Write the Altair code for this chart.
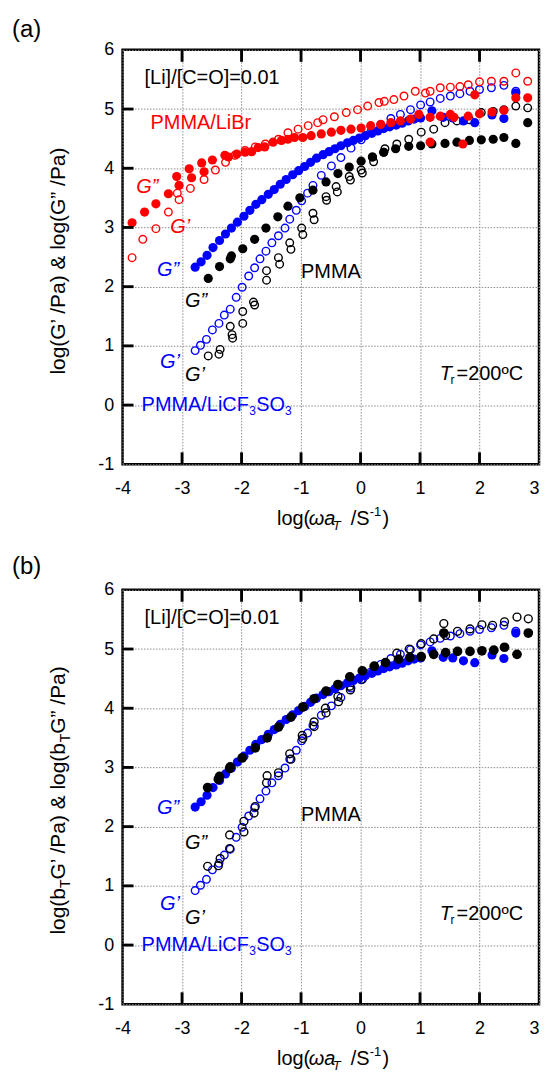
import altair as alt
import pandas as pd

# ---------------- data ----------------
# Panel (a): PMMA/LiBr
red_gpp = [(-3.84,3.08),(-3.63,3.26),(-3.44,3.40),(-3.23,3.57),(-3.09,3.86),(-3.05,3.71),(-2.88,3.99),(-2.84,3.84),
           (-2.67,4.09),(-2.63,3.94),(-2.49,4.14),(-2.28,4.22),(-2.22,4.19),(-2.08,4.24),(-1.94,4.27),(-1.83,4.28),
           (-1.72,4.35),(-1.61,4.36),(-1.47,4.44),(-1.33,4.47),(-1.22,4.49),(-1.11,4.52),(-0.97,4.52),(-0.83,4.55),
           (-0.66,4.58),(-0.49,4.61),(-0.33,4.64),(-0.16,4.66),(0.01,4.68),(0.17,4.72),(0.34,4.74),(0.51,4.77),
           (0.67,4.80),(0.84,4.83),(0.98,4.91),(1.17,4.86),(1.17,4.44),(1.34,4.88),(1.51,4.91),(1.57,4.86),
           (1.72,4.41),(1.81,4.88),(1.92,5.24),(2.00,4.92),(2.21,4.95),(2.41,4.98),(2.61,5.19),(2.81,5.19)]
red_gp = [(-3.84,2.49),(-3.66,2.80),(-3.44,2.98),(-3.23,3.26),(-3.08,3.58),(-3.05,3.47),(-2.86,3.66),(-2.63,3.81),
          (-2.44,3.97),(-2.27,4.10),(-2.11,4.22),(-1.94,4.30),(-1.77,4.36),(-1.60,4.41),(-1.38,4.49),(-1.22,4.60),
          (-1.05,4.66),(-0.88,4.72),(-0.72,4.77),(-0.63,4.82),(-0.44,4.87),(-0.24,4.94),(-0.05,4.99),(0.12,5.05),
          (0.31,5.11),(0.40,5.13),(0.56,5.16),(0.73,5.22),(0.92,5.30),(1.09,5.27),(1.17,5.30),(1.34,5.36),
          (1.51,5.37),(1.67,5.38),(1.81,5.41),(2.00,5.46),(2.20,5.47),(2.41,5.47),(2.61,5.61),(2.81,5.47)]

# PMMA/LiCF3SO3 (same in both panels)
blue_gpp = [(-2.78,2.33),(-2.68,2.42),(-2.58,2.53),(-2.48,2.66),(-2.37,2.78),(-2.27,2.89),(-2.17,2.99),(-2.07,3.09),
            (-1.96,3.19),(-1.86,3.29),(-1.76,3.39),(-1.66,3.47),(-1.55,3.56),(-1.45,3.64),(-1.35,3.73),(-1.25,3.81),
            (-1.14,3.89),(-1.04,3.96),(-0.94,4.03),(-0.84,4.10),(-0.74,4.17),(-0.63,4.23),(-0.53,4.28),(-0.43,4.33),
            (-0.33,4.38),(-0.22,4.43),(-0.12,4.47),(-0.02,4.51),(0.08,4.55),(0.19,4.59),(0.29,4.63),(0.39,4.67),
            (0.49,4.70),(0.60,4.73),(0.70,4.76),(0.80,4.80),(0.90,4.83),(1.01,4.85),(1.20,4.97),(1.39,4.86),
            (1.55,4.85),(1.73,4.80),(1.92,4.77),(2.21,4.90),(2.41,4.84),(2.61,5.27)]
blue_gp = [(-2.78,0.92),(-2.69,1.01),(-2.59,1.11),(-2.49,1.27),(-2.38,1.38),(-2.29,1.52),(-2.19,1.62),(-2.09,1.82),
           (-1.99,1.99),(-1.88,2.18),(-1.78,2.32),(-1.69,2.47),(-1.59,2.60),(-1.49,2.74),(-1.38,2.86),(-1.27,2.99),
           (-1.19,3.14),(-1.08,3.29),(-0.99,3.45),(-0.89,3.58),(-0.80,3.71),(-0.66,3.88),(-0.49,4.04),(-0.33,4.18),
           (-0.16,4.34),(0.01,4.48),(0.17,4.61),(0.34,4.74),(0.51,4.84),(0.67,4.91),(0.84,4.99),(1.01,5.07),
           (1.17,5.12),(1.34,5.18),(1.51,5.22),(1.67,5.26),(1.84,5.30),(2.00,5.33),(2.20,5.36),(2.41,5.40),(2.61,5.30)]

# PMMA, panel (a)
blk_gpp_a = [(-2.56,2.14),(-2.37,2.34),(-2.19,2.47),(-2.17,2.52),(-1.98,2.64),(-1.78,2.80),(-1.59,2.99),(-1.39,3.18),
             (-1.22,3.36),(-1.02,3.50),(-0.80,3.63),(-0.58,3.77),(-0.38,3.91),(-0.19,4.02),(0.01,4.12),(0.20,4.19),
             (0.39,4.27),(0.59,4.33),(0.81,4.37),(1.01,4.38),(1.20,4.41),(1.42,4.42),(1.62,4.44),(1.83,4.47),
             (2.03,4.48),(2.23,4.49),(2.41,4.52),(2.61,4.42),(2.81,4.77)]
blk_gp_a = [(-2.56,0.83),(-2.38,0.86),(-2.36,0.94),(-2.19,1.33),(-2.16,1.19),(-2.15,1.13),(-1.98,1.58),(-1.98,1.38),
            (-1.80,1.74),(-1.78,1.69),(-1.58,2.27),(-1.58,2.11),(-1.38,2.49),(-1.36,2.38),(-1.19,2.74),(-1.17,2.63),
            (-0.99,2.99),(-0.97,2.88),(-0.80,3.24),(-0.78,3.13),(-0.58,3.52),(-0.57,3.46),(-0.41,3.69),(-0.39,3.60),
            (-0.19,3.86),(-0.17,3.80),(0.01,3.97),(0.03,3.92),(0.20,4.19),(0.22,4.11),(0.39,4.27),(0.41,4.33),
            (0.61,4.41),(0.81,4.49),(1.02,4.61),(1.23,4.66),(1.42,4.77),(1.62,4.80),(1.83,4.82),(2.03,4.94),
            (2.23,4.96),(2.41,4.99),(2.61,5.05),(2.81,5.02)]

# PMMA, panel (b) (b_T-shifted)
blk_gpp_b = [(-2.57,2.66),(-2.39,2.80),(-2.37,2.85),(-2.20,2.98),(-2.19,3.01),(-1.99,3.16),(-1.77,3.33),(-1.57,3.50),
             (-1.38,3.68),(-1.17,3.85),(-0.97,4.02),(-0.78,4.16),(-0.58,4.29),(-0.38,4.40),(-0.18,4.53),(0.03,4.63),
             (0.23,4.71),(0.42,4.77),(0.64,4.83),(0.83,4.86),(1.02,4.87),(1.23,4.91),(1.40,5.27),(1.43,4.94),
             (1.63,4.96),(1.84,4.96),(2.04,4.97),(2.24,4.98),(2.42,5.03),(2.63,4.91),(2.82,5.27)]
blk_gp_b = [(-2.57,1.33),(-2.39,1.34),(-2.36,1.46),(-2.20,1.63),(-2.20,1.86),(-1.96,1.91),(-1.96,2.09),(-1.79,2.23),
            (-1.77,2.34),(-1.58,2.74),(-1.57,2.86),(-1.38,2.91),(-1.19,3.23),(-1.17,3.14),(-0.98,3.54),(-0.97,3.49),
            (-0.78,3.69),(-0.78,3.77),(-0.59,4.00),(-0.58,3.92),(-0.38,4.20),(-0.37,4.11),(-0.18,4.37),(-0.17,4.31),
            (0.03,4.49),(0.23,4.63),(0.42,4.77),(0.61,4.93),(0.82,5.00),(1.02,5.09),(1.23,5.17),(1.40,5.43),
            (1.43,5.23),(1.63,5.30),(1.84,5.34),(2.04,5.41),(2.22,5.40),(2.42,5.46),(2.63,5.54),(2.82,5.51)]

x_ticks = [-4, -3, -2, -1, 0, 1, 2, 3]
y_ticks = [-1, 0, 1, 2, 3, 4, 5, 6]
inner_x_ticks = [-3, -2, -1, 0, 1, 2]
inner_y_ticks = [0, 1, 2, 3, 4, 5]

RED, BLUE, BLACK = "#ff0000", "#0000ff", "#000000"
FONT = "Liberation Sans"
W, H = 418, 416
FS = 20

def X(field):
    return alt.X(field, type="quantitative", title=None,
                 scale=alt.Scale(domain=[-4, 3], nice=False, zero=False),
                 axis=alt.Axis(values=x_ticks, labelExpr="'' + datum.value", grid=True, ticks=False,
                               domain=False, labelFontSize=18, labelPadding=15, labelColor="black",
                               labelFont=FONT, labelFlush=False, gridColor="#8c8c8c",
                               labelAlign=alt.condition("datum.value == 3", alt.value("right"), alt.value("center")),
                               gridDash=[1.5, 1.5], gridWidth=1))

def Y(field):
    return alt.Y(field, type="quantitative", title=None,
                 scale=alt.Scale(domain=[-1, 6], nice=False, zero=False),
                 axis=alt.Axis(values=y_ticks, labelExpr="'' + datum.value", grid=True, ticks=False,
                               domain=False, labelFontSize=18, labelPadding=9, labelColor="black",
                               labelFont=FONT, labelFlush=False, gridColor="#8c8c8c",
                               gridDash=[1.5, 1.5], gridWidth=1))

def pts(pairs, color, filled, size):
    df = pd.DataFrame({"x": [p[0] for p in pairs], "y": [p[1] for p in pairs], "c": color})
    if filled:
        m = alt.Chart(df).mark_point(shape="circle", filled=True, size=size, opacity=1)
    else:
        m = alt.Chart(df).mark_point(shape="circle", filled=False, size=size, strokeWidth=1.4, opacity=1)
    return m.encode(x=X("x"), y=Y("y"), color=alt.Color("c:N", scale=None))

def txt(x, y, s, color=BLACK, size=FS, italic=False, dx=0, dy=0):
    df = pd.DataFrame({"x": [x], "y": [y], "t": [s]})
    return alt.Chart(df).mark_text(align="left", baseline="middle", dx=dx, dy=dy, fontSize=size,
                                   font=FONT, fontStyle="italic" if italic else "normal",
                                   color=color).encode(x=X("x"), y=Y("y"), text="t:N")

def ptxt(px, py, s, size=FS, angle=0, dx=0, dy=0, italic=False, baseline="alphabetic", align="left"):
    df = pd.DataFrame({"t": [s]})
    return alt.Chart(df).mark_text(align=align, baseline=baseline, dx=dx, dy=dy, fontSize=size,
                                   angle=angle, font=FONT, color=BLACK,
                                   fontStyle="italic" if italic else "normal").encode(
        x=alt.value(px), y=alt.value(py), text="t:N")

# inward tick marks: symbol glyphs placed on the frame through the scales
UP_TICK = "M-0.12,-1L0.12,-1L0.12,0L-0.12,0Z"
DOWN_TICK = "M-0.12,0L0.12,0L0.12,1L-0.12,1Z"
RIGHT_TICK = "M0,-0.13L1,-0.13L1,0.13L0,0.13Z"

def frame_ticks():
    n = len(inner_x_ticks)
    bot = pd.DataFrame({"x": inner_x_ticks, "y": [-1] * n, "c": [BLACK] * n})
    top = pd.DataFrame({"x": inner_x_ticks, "y": [6] * n, "c": [BLACK] * n})
    lef = pd.DataFrame({"x": [-4] * len(inner_y_ticks), "y": inner_y_ticks, "c": [BLACK] * len(inner_y_ticks)})
    out = []
    for df, shp, sz in ((bot, UP_TICK, 576), (top, DOWN_TICK, 576), (lef, RIGHT_TICK, 484)):
        out.append(alt.Chart(df).mark_point(shape=shp, filled=True, size=sz, opacity=1).encode(
            x=X("x"), y=Y("y"), color=alt.Color("c:N", scale=None)))
    return out

def xtitle():
    yb = H + 61
    x0 = 155
    return [ptxt(x0, yb, "log("),
            ptxt(x0, yb, "ωa", italic=True, dx=32),
            ptxt(x0, yb, "T", size=13, italic=True, dx=56, dy=5),
            ptxt(x0, yb, "/S", dx=74),
            ptxt(x0, yb, "-1", size=13, dx=93, dy=-9),
            ptxt(x0, yb, ")", dx=106)]

def licf(xd, yd):
    return [txt(xd, yd, "PMMA/LiCF", BLUE),
            txt(xd, yd, "3", BLUE, size=12, dx=108, dy=6),
            txt(xd, yd, "SO", BLUE, dx=115),
            txt(xd, yd, "3", BLUE, size=12, dx=144, dy=6)]

def tref(xd, yd):
    return [txt(xd, yd, "T", italic=True),
            txt(xd, yd, "r", size=12, dx=11, dy=6),
            txt(xd, yd, "=200ºC", dx=17)]

# ---------------- panel (a) ----------------
layers_a = [
    pts(blk_gp_a, BLACK, False, 58), pts(blue_gp, BLUE, False, 58), pts(red_gp, RED, False, 58),
    pts(blk_gpp_a, BLACK, True, 85), pts(blue_gpp, BLUE, True, 85), pts(red_gpp, RED, True, 85),
] + frame_ticks() + [
    txt(-3.63, 5.52, "[Li]/[C=O]=0.01"),
    txt(-3.53, 4.77, "PMMA/LiBr", RED),
    txt(-3.77, 3.68, "G”", RED, italic=True),
    txt(-3.20, 3.00, "G’", RED, italic=True),
    txt(-3.42, 2.28, "G”", BLUE, italic=True),
    txt(-2.95, 1.75, "G”", BLACK, italic=True),
    txt(-3.37, 0.72, "G’", BLUE, italic=True),
    txt(-2.95, 0.50, "G’", BLACK, italic=True),
    txt(-1.00, 2.25, "PMMA"),
] + licf(-3.68, 0.0) + tref(1.33, 0.52) + xtitle() + [
    ptxt(-58, H / 2 + 4, "log(G’ /Pa) & log(G” /Pa)", size=21, angle=270, align="center"),
    ptxt(-111, -32, "(a)", size=24, baseline="top"),
]
panel_a = alt.layer(*layers_a).properties(width=W, height=H)

# ---------------- panel (b) ----------------
yt_start = H / 2 + 138
yt = [("log(b", 0, 0, 21), ("T", 46.7, 5, 14), ("G’ /Pa) & log(b", 55.3, 0, 21),
      ("T", 193.0, 5, 14), ("G” /Pa)", 201.6, 0, 21)]
layers_b = [
    pts(blue_gp, BLUE, False, 58), pts(blk_gp_b, BLACK, False, 62),
    pts(blue_gpp, BLUE, True, 85), pts(blk_gpp_b, BLACK, True, 95),
] + frame_ticks() + [
    txt(-3.63, 5.53, "[Li]/[C=O]=0.01"),
    txt(-3.42, 2.32, "G”", BLUE, italic=True),
    txt(-2.95, 1.72, "G”", BLACK, italic=True),
    txt(-3.37, 0.70, "G’", BLUE, italic=True),
    txt(-2.95, 0.45, "G’", BLACK, italic=True),
    txt(-1.00, 2.20, "PMMA"),
] + licf(-3.68, 0.0) + tref(1.33, 0.52) + xtitle() + [
    ptxt(-58, yt_start, s, size=sz, angle=270, dx=dx, dy=dy) for (s, dx, dy, sz) in yt
] + [ptxt(-111, -35, "(b)", size=24, baseline="top")]
panel_b = alt.layer(*layers_b).properties(width=W, height=H)

chart = alt.vconcat(panel_a, panel_b, spacing=18).properties(
    padding={"left": 2, "top": 6, "right": 0, "bottom": 0}, background="white"
).configure_view(stroke=BLACK, strokeWidth=2.5).configure_text(font=FONT)

chart.save("out.html", embed_options={"renderer": "svg", "actions": False})
